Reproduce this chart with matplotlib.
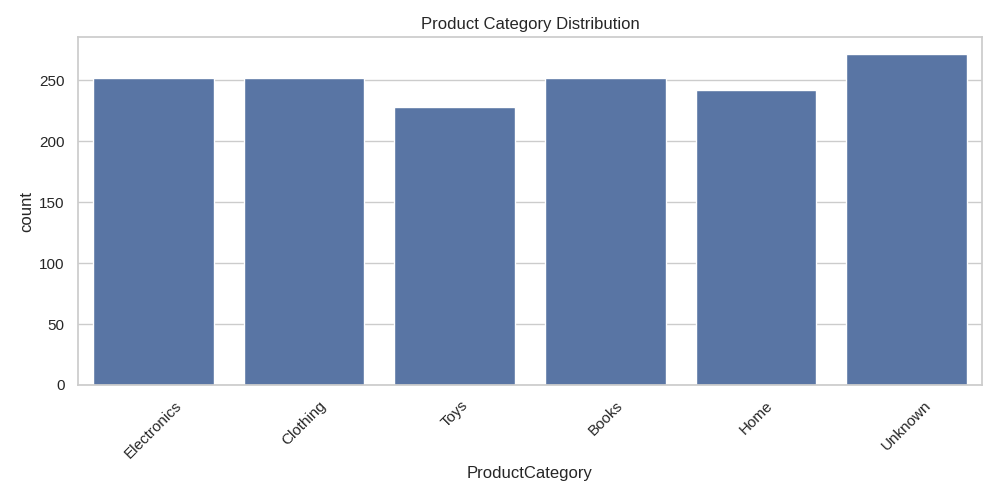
import matplotlib
matplotlib.use('Agg')
import matplotlib.pyplot as plt
import seaborn as sns
import pandas as pd

categories = ['Electronics', 'Clothing', 'Toys', 'Books', 'Home', 'Unknown']
counts = [252, 252, 228, 252, 242, 272]

df = pd.DataFrame({'ProductCategory': categories, 'count': counts})

sns.set_theme(style='whitegrid')
plt.rcParams['font.family'] = ['Liberation Sans', 'DejaVu Sans']
fig, ax = plt.subplots(figsize=(10, 5), dpi=100)
sns.barplot(data=df, x='ProductCategory', y='count', color='#4c72b0', ax=ax)
ax.set_title('Product Category Distribution')
plt.xticks(rotation=45)
plt.subplots_adjust(left=0.078, right=0.982, bottom=0.23, top=0.926)
plt.savefig('out.png')
